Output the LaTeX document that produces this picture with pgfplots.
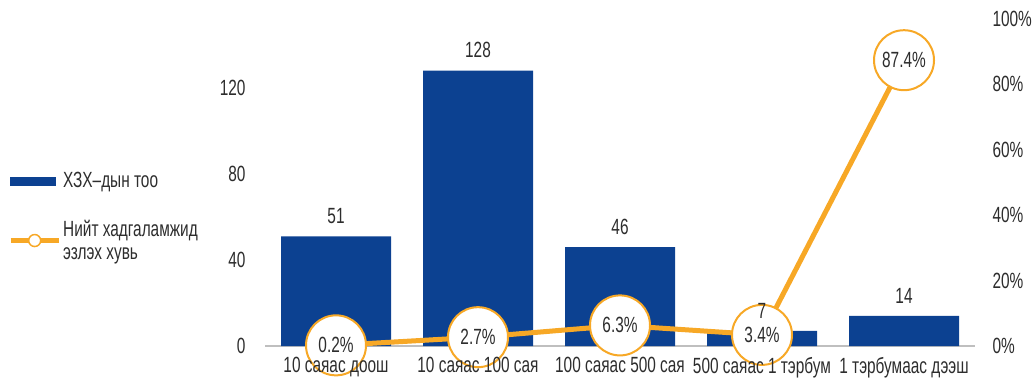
\documentclass[border=0pt]{standalone}
\usepackage{pgfplots}
\pgfplotsset{compat=1.18}
\usepackage{fontspec}
\setmainfont{Liberation Sans}[FakeStretch=0.7]
\definecolor{barblue}{RGB}{12,65,145}
\definecolor{lineorange}{RGB}{247,168,38}
\definecolor{txt}{RGB}{45,45,45}
\newcommand{\lblfont}{\fontsize{22}{24}\selectfont}
\begin{document}
\begin{tikzpicture}[x=1pt,y=1pt]
\path[use as bounding box] (0,0) rectangle (1032,378);
\pgfplotsset{
  common/.style={
    at={(265pt,32pt)}, anchor=south west, scale only axis,
    width=710pt, height=327pt, xmin=-0.5, xmax=4.5,
    tick style={draw=none},
    ticklabel style={font=\lblfont, text=txt},
    /pgf/number format/assume math mode=true,
    clip=false,
  }
}
% bars, left axis
\begin{axis}[common,
  ymin=0, ymax=152, ytick={0,40,80,120},
  axis x line*=bottom, axis y line*=left,
  x axis line style={draw=black!25, line width=2pt, -},
  y axis line style={draw=none},
  xtick=\empty,
  yticklabel style={xshift=-16pt},
]
\addplot[ybar, bar width=110pt, bar shift=0pt, fill=barblue, draw=none]
  coordinates {(0,51) (1,128) (2,46) (3,7) (4,14)};
\end{axis}
% line, right axis
\begin{axis}[common,
  ymin=0, ymax=100, ytick={0,20,40,60,80,100},
  yticklabel={\pgfmathprintnumber{\tick}\%},
  axis x line=none, axis y line*=right,
  y axis line style={draw=none},
  yticklabel style={anchor=west, xshift=14pt},
]
\addplot[lineorange, line width=5pt, mark=*, mark size=30pt,
  mark options={fill=white, draw=lineorange, line width=2pt},
  nodes near coords, point meta=explicit symbolic,
  nodes near coords style={anchor=center, font=\lblfont, text=txt}]
  coordinates {(0,0.2)[0.2\%] (1,2.7)[2.7\%] (2,6.3)[6.3\%] (3,3.4)[3.4\%] (4,87.4)[87.4\%]};
\end{axis}
% bar value labels, category labels and legend
\begin{axis}[common,
  ymin=0, ymax=152,
  axis x line*=bottom, axis y line=none,
  x axis line style={draw=none},
  xtick={0,1,2,3,4},
  xticklabels={10 саяас доош, 10 саяас 100 сая, 100 саяас 500 сая, 500 саяас 1 тэрбум, 1 тэрбумаас дээш},
  xticklabel style={yshift=-8pt},
  legend style={at={(-0.362,0.538)}, anchor=north west, draw=none, fill=none,
    font=\fontsize{22}{23}\selectfont, text=txt, inner sep=0pt,
    cells={anchor=west, align=left, inner xsep=1.5pt}, row sep=27pt},
]
\addlegendimage{legend image code/.code={\fill[barblue] (0pt,-4pt) rectangle (45pt,4pt);}}
\addlegendentry{ХЗХ–дын тоо}
\addlegendimage{legend image code/.code={\draw[lineorange, line width=5pt] (0pt,0pt) -- (48pt,0pt);
  \draw[lineorange, fill=white, line width=1.5pt] (24pt,0pt) circle (6pt);}}
\addlegendentry{Нийт хадгаламжид\\эзлэх хувь}
\addplot[draw=none, mark=none, forget plot, nodes near coords,
  nodes near coords style={anchor=south, yshift=9pt, font=\lblfont, text=txt}]
  coordinates {(0,51) (1,128) (2,46) (3,7) (4,14)};
\end{axis}
\end{tikzpicture}
\end{document}
